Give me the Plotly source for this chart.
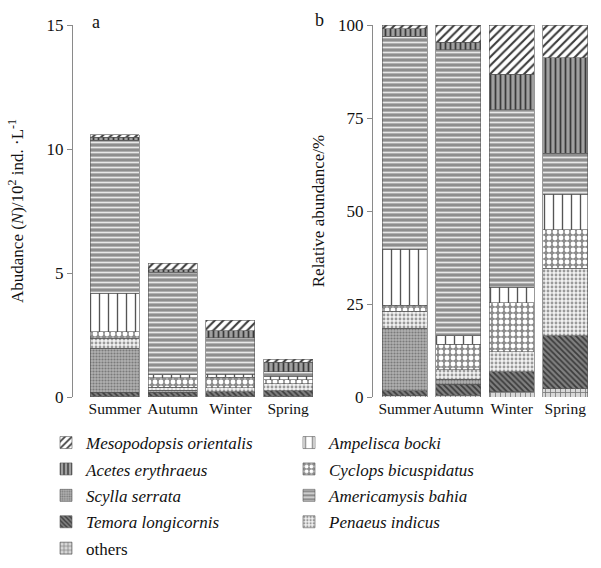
import plotly.graph_objects as go

seasons = ["Summer", "Autumn", "Winter", "Spring"]

# stacking order bottom -> top
species = ["others", "Temora longicornis", "Scylla serrata", "Penaeus indicus",
           "Cyclops bicuspidatus", "Ampelisca bocki", "Americamysis bahia",
           "Acetes erythraeus", "Mesopodopsis orientalis"]

# Panel a: abundance (10^2 ind./L)
abund_others = [0.04, 0.03, 0.04, 0.03]
abund_temora = [0.16, 0.16, 0.17, 0.22]
abund_scylla = [1.76, 0.08, 0.00, 0.00]
abund_penaeus = [0.41, 0.13, 0.17, 0.28]
abund_cyclops = [0.26, 0.37, 0.41, 0.16]
abund_ampelisca = [1.55, 0.12, 0.13, 0.15]
abund_americamysis = [6.18, 4.15, 1.47, 0.17]
abund_acetes = [0.12, 0.10, 0.29, 0.39]
abund_meso = [0.10, 0.25, 0.41, 0.13]

# Panel b: relative abundance (%)
rel_others = [0.3, 0.5, 1.4, 2.2]
rel_temora = [1.4, 2.9, 5.4, 14.3]
rel_scylla = [16.8, 1.4, 0.0, 0.0]
rel_penaeus = [4.6, 2.5, 5.4, 18.1]
rel_cyclops = [1.6, 6.9, 13.2, 10.3]
rel_ampelisca = [15.0, 2.2, 4.1, 9.6]
rel_americamysis = [57.3, 77.0, 47.7, 11.0]
rel_acetes = [2.0, 1.9, 9.5, 25.7]
rel_meso = [1.0, 4.7, 13.3, 8.8]

abund = [abund_others, abund_temora, abund_scylla, abund_penaeus, abund_cyclops,
         abund_ampelisca, abund_americamysis, abund_acetes, abund_meso]
rel = [rel_others, rel_temora, rel_scylla, rel_penaeus, rel_cyclops,
       rel_ampelisca, rel_americamysis, rel_acetes, rel_meso]

styles = {
    "Mesopodopsis orientalis": dict(shape="/", bgcolor="#ffffff", fgcolor="#3a3a3a", size=6, solidity=0.35),
    "Ampelisca bocki": dict(shape="|", bgcolor="#ffffff", fgcolor="#555555", size=9, solidity=0.15),
    "Acetes erythraeus": dict(shape="|", bgcolor="#a0a0a0", fgcolor="#3a3a3a", size=5, solidity=0.35),
    "Cyclops bicuspidatus": dict(shape=".", bgcolor="#8c8c8c", fgcolor="#ffffff", size=6, solidity=0.5),
    "Scylla serrata": dict(shape=".", bgcolor="#b0b0b0", fgcolor="#7a7a7a", size=3, solidity=0.4),
    "Americamysis bahia": dict(shape="-", bgcolor="#8e8e8e", fgcolor="#e8e8e8", size=5, solidity=0.35),
    "Temora longicornis": dict(shape="\\", bgcolor="#808080", fgcolor="#3c3c3c", size=4, solidity=0.45),
    "Penaeus indicus": dict(shape=".", bgcolor="#f2f2f2", fgcolor="#9a9a9a", size=4, solidity=0.4),
    "others": dict(shape="+", bgcolor="#d8d8d8", fgcolor="#777777", size=5, solidity=0.3),
}

left_col = ["Mesopodopsis orientalis", "Acetes erythraeus", "Scylla serrata",
            "Temora longicornis", "others"]
right_col = ["Ampelisca bocki", "Cyclops bicuspidatus", "Americamysis bahia",
             "Penaeus indicus"]

FONT = "Liberation Serif"
fig = go.Figure()

for i, sp in enumerate(species):
    st = styles[sp]
    if sp in left_col:
        leg, rank = "legend", left_col.index(sp) + 1
    else:
        leg, rank = "legend2", right_col.index(sp) + 1
    name = sp if sp == "others" else "<i>" + sp + "</i>"
    mk = dict(color=st["bgcolor"], line=dict(color="#555555", width=0.6),
              pattern=dict(shape=st["shape"], bgcolor=st["bgcolor"],
                           fgcolor=st["fgcolor"], size=st["size"],
                           solidity=st["solidity"], fillmode="replace"))
    fig.add_trace(go.Bar(
        x=seasons, y=abund[i], name=name, xaxis="x", yaxis="y",
        legend=leg, legendrank=rank, legendgroup=sp, marker=mk,
    ))
    fig.add_trace(go.Bar(
        x=seasons, y=rel[i], name=name, xaxis="x2", yaxis="y2",
        showlegend=False, legendgroup=sp, marker=mk,
    ))

W, H = 601, 568
def px(v):
    return v / W
def py(v):
    return (H - v) / H

tickfont = dict(family=FONT, size=17, color="#111111")
xtickfont = dict(family=FONT, size=15.5, color="#111111")
fig.update_layout(
    template="none",
    width=W, height=H, margin=dict(l=0, r=0, t=0, b=0, autoexpand=False),
    paper_bgcolor="white", plot_bgcolor="white",
    barmode="stack", bargap=0.15,
    font=dict(family=FONT, size=17, color="#111111"),
    xaxis=dict(domain=[px(86), px(317)], anchor="y", showline=False, ticks="",
               tickangle=0, automargin=False,
               tickfont=xtickfont, showgrid=False, zeroline=False),
    yaxis=dict(domain=[py(397), py(25)], anchor="free", position=px(72),
               range=[0, 15], tickvals=[0, 5, 10, 15], showline=True,
               linecolor="#8a8a8a", linewidth=1.2, ticks="outside", ticklen=5,
               tickcolor="#8a8a8a", showgrid=False, zeroline=False, tickfont=tickfont,
               automargin=False,
               title=dict(text="Abudance (<i>N</i>)/10<sup>2</sup> ind. ·L<sup>-1</sup>",
                          font=dict(family=FONT, size=17), standoff=17)),
    xaxis2=dict(domain=[px(378), px(592)], anchor="y2", showline=False, ticks="",
                tickangle=0, automargin=False,
                tickfont=xtickfont, showgrid=False, zeroline=False),
    yaxis2=dict(domain=[py(397), py(25)], anchor="free", position=px(372),
                range=[0, 100], tickvals=[0, 25, 50, 75, 100], showline=True,
                linecolor="#8a8a8a", linewidth=1.2, ticks="outside", ticklen=5,
                tickcolor="#8a8a8a", showgrid=False, zeroline=False, tickfont=tickfont,
                automargin=False,
                title=dict(text="Relative abundance/%", font=dict(family=FONT, size=17),
                           standoff=8)),
    legend=dict(x=px(46), y=py(425), xanchor="left", yanchor="top",
                orientation="v", traceorder="grouped", tracegroupgap=1.3,
                font=dict(family=FONT, size=17), bgcolor="rgba(0,0,0,0)",
                itemwidth=30),
    legend2=dict(x=px(289), y=py(425), xanchor="left", yanchor="top",
                 orientation="v", traceorder="grouped", tracegroupgap=1.3,
                 font=dict(family=FONT, size=17), bgcolor="rgba(0,0,0,0)",
                 itemwidth=30),
    annotations=[
        dict(text="a", x=px(90), y=py(22), xref="paper", yref="paper",
             xanchor="left", yanchor="middle", showarrow=False,
             font=dict(family=FONT, size=18)),
        dict(text="b", x=px(313), y=py(20), xref="paper", yref="paper",
             xanchor="left", yanchor="middle", showarrow=False,
             font=dict(family=FONT, size=18)),
    ],
)

fig.write_html("out.html", config={"displayModeBar": False},
               post_script="document.body.style.margin='0';document.body.style.overflow='hidden';")
